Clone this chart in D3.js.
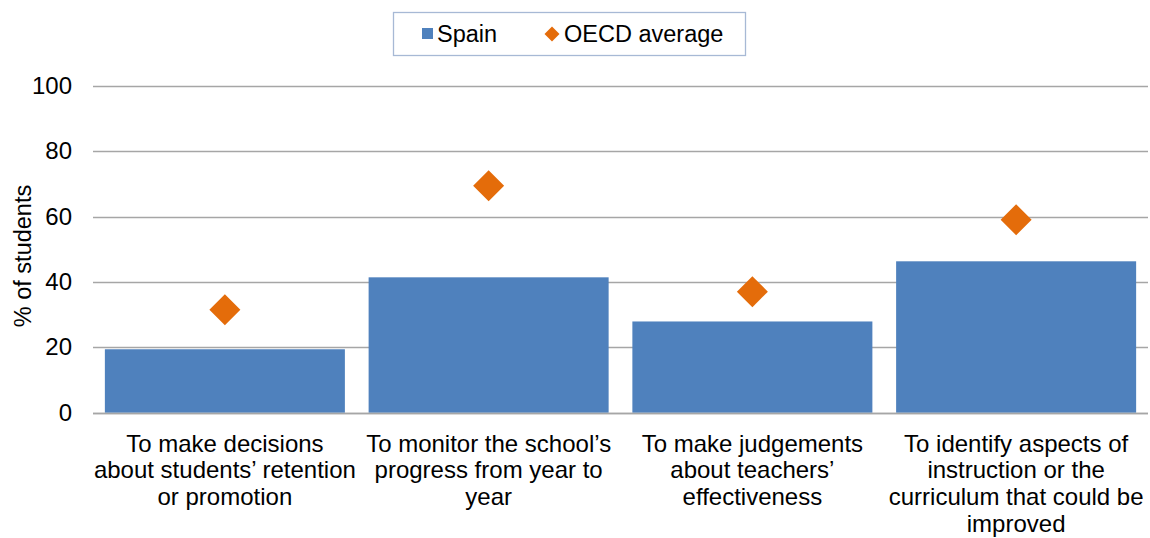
<!DOCTYPE html>
<html>
<head>
<meta charset="utf-8">
<script src="https://cdn.jsdelivr.net/npm/d3@7"></script>
<style>
  html, body { margin: 0; padding: 0; background: #fff; }
  svg { display: block; font-family: "Liberation Sans", Arial, sans-serif; }
</style>
</head>
<body>
<svg id="chart" width="1150" height="538"></svg>
<script>
// ---- data ----
const categories = [
  "To make decisions\nabout students\u2019 retention\nor promotion",
  "To monitor the school\u2019s\nprogress from year to\nyear",
  "To make judgements\nabout teachers\u2019\neffectiveness",
  "To identify aspects of\ninstruction or the\ncurriculum that could be\nimproved"
];
const spainValues = [19.4, 41.4, 27.9, 46.3];
const oecdValues = [31.5, 69.4, 37.0, 59.0];
const yTicks = [0, 20, 40, 60, 80, 100];
const seriesNames = ["Spain", "OECD average"];
const yTitle = "% of students";

// ---- layout ----
const svg = d3.select("#chart");
const plotLeft = 93, plotRight = 1148, plotTop = 85.7, plotBottom = 412.7;
const blue = "#4F81BD", orange = "#E46C0A", gridColor = "#A6A6A6";
const fontSize = 24, smallFont = 23.5;

const x = d3.scaleBand().domain(d3.range(categories.length))
  .range([plotLeft, plotRight]).paddingInner(0.09).paddingOuter(0.045);
const y = d3.scaleLinear().domain([0, 100]).range([plotBottom, plotTop]);

// gridlines
svg.append("g").selectAll("line").data(yTicks).join("line")
  .attr("x1", plotLeft).attr("x2", plotRight)
  .attr("y1", d => Math.round(y(d)) + 0.5).attr("y2", d => Math.round(y(d)) + 0.5)
  .attr("stroke", gridColor).attr("stroke-width", 1.3);

// y axis labels
const yAxis = d3.axisLeft(y).tickValues(yTicks).tickSize(0).tickPadding(21);
const gy = svg.append("g").attr("transform", `translate(${plotLeft},0)`).call(yAxis);
gy.select(".domain").remove();
gy.selectAll("text").attr("font-size", fontSize).attr("font-family", "Liberation Sans, Arial, sans-serif").attr("fill", "#000");

// y title
svg.append("text")
  .attr("transform", `translate(23,256) rotate(-90)`)
  .attr("text-anchor", "middle").attr("dominant-baseline", "central")
  .attr("font-size", smallFont).attr("fill", "#000")
  .text(yTitle);

// bars
svg.append("g").selectAll("rect").data(spainValues).join("rect")
  .attr("x", (d, i) => x(i)).attr("width", x.bandwidth())
  .attr("y", d => y(d)).attr("height", d => y(0) - y(d))
  .attr("fill", blue);

// baseline on top
svg.append("line").attr("x1", plotLeft).attr("x2", plotRight)
  .attr("y1", Math.round(y(0)) + 0.5).attr("y2", Math.round(y(0)) + 0.5)
  .attr("stroke", gridColor).attr("stroke-width", 1.3);

// diamonds
const diamond = r => `M0,${-r}L${r},0L0,${r}L${-r},0Z`;
svg.append("g").selectAll("path").data(oecdValues).join("path")
  .attr("transform", (d, i) => `translate(${x(i) + x.bandwidth() / 2},${y(d)})`)
  .attr("d", diamond(15.5))
  .attr("fill", orange);

// category labels
const lab = svg.append("g").selectAll("text").data(categories).join("text")
  .attr("text-anchor", "middle").attr("font-size", fontSize).attr("fill", "#000")
  .attr("transform", (d, i) => `translate(${x(i) + x.bandwidth() / 2},0)`);
lab.each(function(d) {
  const t = d3.select(this);
  d.split("\n").forEach((line, k) => {
    t.append("tspan").attr("x", 0).attr("y", 451.5 + k * 26.7).text(line);
  });
});

// legend
const lg = svg.append("g");
lg.append("rect").attr("x", 393.5).attr("y", 12.5).attr("width", 352).attr("height", 43)
  .attr("fill", "#fff").attr("stroke", "#A7B9D5").attr("stroke-width", 1.3);
lg.append("rect").attr("x", 422).attr("y", 28).attr("width", 11).attr("height", 11).attr("fill", blue);
lg.append("text").attr("x", 437).attr("y", 34).attr("dominant-baseline", "central")
  .attr("font-size", smallFont).attr("fill", "#000").text(seriesNames[0]);
lg.append("path").attr("transform", "translate(552,34)").attr("d", diamond(7.5)).attr("fill", orange);
lg.append("text").attr("x", 564).attr("y", 34).attr("dominant-baseline", "central")
  .attr("font-size", smallFont).attr("fill", "#000").text(seriesNames[1]);
</script>
</body>
</html>
